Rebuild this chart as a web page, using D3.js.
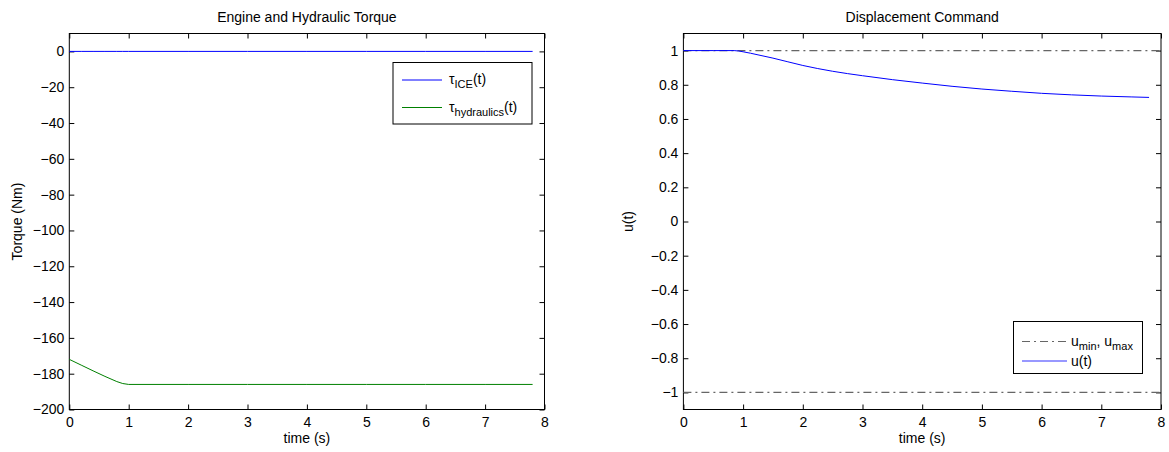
<!DOCTYPE html>
<html><head><meta charset="utf-8">
<script src="https://cdn.jsdelivr.net/npm/d3@7"></script>
<style>
body{margin:0;background:#fff;}
text{font-family:"Liberation Sans",Arial,Helvetica,sans-serif;}
</style></head>
<body><svg id="c" width="1169" height="452"></svg>
<script>
// ---- data ----
const timeTicks = [0,1,2,3,4,5,6,7,8];
const torqueTicks = [-200,-180,-160,-140,-120,-100,-80,-60,-40,-20,0];
const uTicks = [-1,-0.8,-0.6,-0.4,-0.2,0,0.2,0.4,0.6,0.8,1];

const tTorque = [0,0.2,0.4,0.6,0.8,0.9,1.0,2,3,4,5,6,7,7.8];
const tauICE = [0,0,0,0,0,0,0,0,0,0,0,0,0,0];
const tauHyd = [-172,-175.2,-178.4,-181.5,-184.4,-185.5,-186,-186,-186,-186,-186,-186,-186,-186];

const tU = [0,0.5,0.85,1.0,1.25,1.5,2,2.5,3,3.5,4,4.5,5,5.5,6,6.5,7,7.5,7.8];
const uVals = [1,1,1,0.993,0.975,0.956,0.913,0.879,0.853,0.83,0.81,0.791,0.775,0.762,0.75,0.741,0.734,0.729,0.726];
const uMin = -1, uMax = 1;

const titles = ["Engine and Hydraulic Torque","Displacement Command"];
const xLabel = "time (s)";
const yLabels = ["Torque (Nm)","u(t)"];

// ---- drawing ----
const svg = d3.select("#c");
const fs = 14;
const fmt = v => { const s = String(Math.round(v*10)/10); return s.replace("-", "\u2212"); };

function panel(x0, x1, y0, y1, xDom, yDom, yTicks, title, ylab, ylabX) {
  const x = d3.scaleLinear().domain(xDom).range([x0, x1]);
  const y = d3.scaleLinear().domain(yDom).range([y1, y0]);
  const g = svg.append("g");
  const styleAxis = sel => {
    sel.select(".domain").remove();
    sel.selectAll("line").attr("stroke","#000").attr("stroke-width",1);
    sel.selectAll("text").attr("font-size",fs).attr("fill","#000").style("font-family","'Liberation Sans',Arial,sans-serif");
  };
  g.append("g").attr("transform",`translate(0,${y1})`)
    .call(d3.axisBottom(x).tickValues(timeTicks).tickFormat(fmt).tickSizeInner(-5).tickSizeOuter(0).tickPadding(8))
    .call(styleAxis);
  g.append("g").attr("transform",`translate(0,${y0})`)
    .call(d3.axisTop(x).tickValues(timeTicks).tickFormat("").tickSizeInner(-5).tickSizeOuter(0))
    .call(styleAxis);
  g.append("g").attr("transform",`translate(${x0},0)`)
    .call(d3.axisLeft(y).tickValues(yTicks).tickFormat(fmt).tickSizeInner(-5).tickSizeOuter(0).tickPadding(5))
    .call(styleAxis);
  g.append("g").attr("transform",`translate(${x1},0)`)
    .call(d3.axisRight(y).tickValues(yTicks).tickFormat("").tickSizeInner(-5).tickSizeOuter(0))
    .call(styleAxis);
  g.append("rect").attr("x",x0).attr("y",y0).attr("width",x1-x0).attr("height",y1-y0)
    .attr("fill","none").attr("stroke","#000").attr("stroke-width",1);
  g.append("text").attr("x",(x0+x1)/2).attr("y",22).attr("text-anchor","middle").attr("font-size",fs).text(title);
  g.append("text").attr("x",(x0+x1)/2).attr("y",443).attr("text-anchor","middle").attr("font-size",fs).text(xLabel);
  g.append("text").attr("transform",`translate(${ylabX},${(y0+y1)/2}) rotate(-90)`).attr("text-anchor","middle").attr("font-size",fs).text(ylab);
  return {x, y, g};
}

// Left panel
const L = panel(69.3, 544.5, 33.5, 409.5, [0,8], [-200,10], torqueTicks, titles[0], yLabels[0], 22);
const lineL = d3.line().x((d,i)=>L.x(tTorque[i])).y(d=>L.y(d));
L.g.append("path").attr("d", lineL(tauICE)).attr("fill","none").attr("stroke","#0000ff").attr("stroke-width",1);
L.g.append("path").attr("d", lineL(tauHyd)).attr("fill","none").attr("stroke","#008000").attr("stroke-width",1);

// left legend
{
  const lg = L.g.append("g");
  lg.append("rect").attr("x",393).attr("y",62.5).attr("width",139).attr("height",61.5).attr("fill","#fff").attr("stroke","#000").attr("stroke-width",1);
  const rows = [{c:"#0000ff", sub:"ICE", y:80},{c:"#008000", sub:"hydraulics", y:107.5}];
  rows.forEach(r=>{
    lg.append("line").attr("x1",402).attr("x2",442).attr("y1",r.y).attr("y2",r.y).attr("stroke",r.c).attr("stroke-width",1);
    const t = lg.append("text").attr("x",449).attr("y",r.y+4).attr("font-size",fs);
    t.append("tspan").text("\u03C4");
    t.append("tspan").attr("dy",4).attr("font-size",11).text(r.sub);
    t.append("tspan").attr("dy",-4).text("(t)");
  });
}

// Right panel
const R = panel(683.4, 1161, 33.5, 409.5, [0,8], [-1.1,1.1], uTicks, titles[1], yLabels[1], 633);
const dashSpec = "8,4,2,4";
[uMin,uMax].forEach(v=>{
  R.g.append("line").attr("x1",R.x(0)).attr("x2",R.x(8)).attr("y1",R.y(v)).attr("y2",R.y(v))
    .attr("stroke","#666").attr("stroke-width",1.2).attr("stroke-dasharray",dashSpec);
});
const lineR = d3.line().x((d,i)=>R.x(tU[i])).y(d=>R.y(d)).curve(d3.curveMonotoneX);
R.g.append("path").attr("d", lineR(uVals)).attr("fill","none").attr("stroke","#0000ff").attr("stroke-width",1);

// right legend
{
  const lg = R.g.append("g");
  lg.append("rect").attr("x",1013.5).attr("y",321.5).attr("width",129).attr("height",52).attr("fill","#fff").attr("stroke","#000").attr("stroke-width",1);
  lg.append("line").attr("x1",1022).attr("x2",1067).attr("y1",341.5).attr("y2",341.5).attr("stroke","#666").attr("stroke-width",1.2).attr("stroke-dasharray",dashSpec);
  const t1 = lg.append("text").attr("x",1071).attr("y",345.5).attr("font-size",fs);
  t1.append("tspan").text("u");
  t1.append("tspan").attr("dy",4).attr("font-size",11).text("min");
  t1.append("tspan").attr("dy",-4).text(", u");
  t1.append("tspan").attr("dy",4).attr("font-size",11).text("max");
  lg.append("line").attr("x1",1022).attr("x2",1067).attr("y1",361).attr("y2",361).attr("stroke","#3333ff").attr("stroke-width",1.2);
  lg.append("text").attr("x",1071).attr("y",366).attr("font-size",fs).text("u(t)");
}
</script></body></html>
